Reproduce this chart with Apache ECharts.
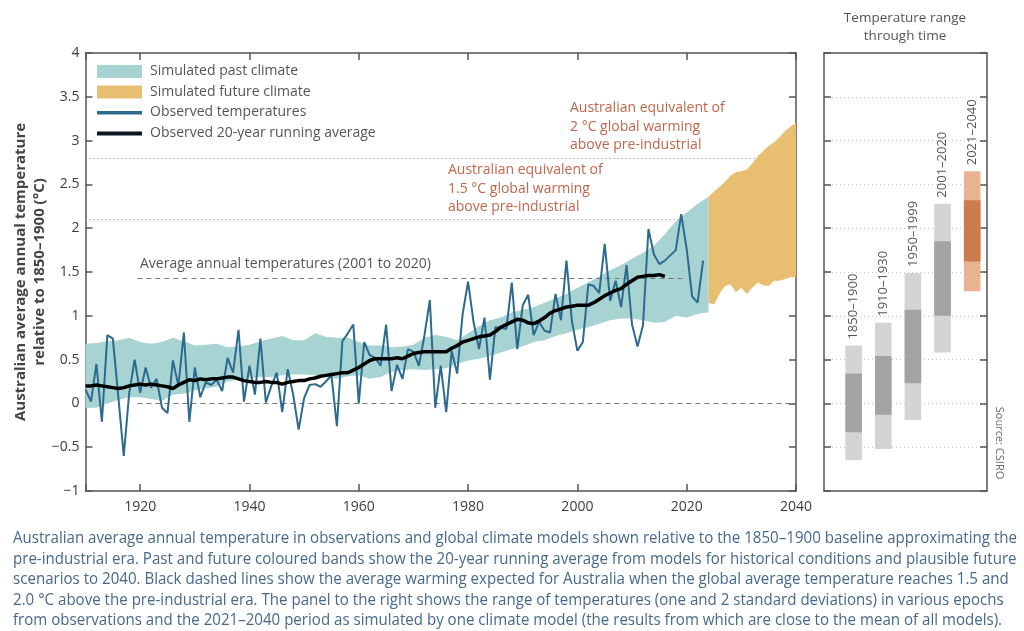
<!DOCTYPE html>
<html>
<head>
<meta charset="utf-8">
<script src="https://cdn.jsdelivr.net/npm/echarts@6/dist/echarts.min.js"></script>
<style>html,body{margin:0;padding:0;background:#fff}#c{width:1024px;height:631px}</style>
</head>
<body>
<div id="c"></div>
<script>
// ---------------- DATA ----------------
const obsFirstYear = 1910;
const obsTemps = [
  0.16, 0.02, 0.45, -0.21, 0.78, 0.74, 0.08, -0.60, 0.12, 0.50,
  0.12, 0.41, 0.18, 0.28, -0.05, -0.11, 0.49, 0.20, 0.81, -0.21,
  0.41, 0.07, 0.24, 0.21, 0.27, 0.14, 0.52, 0.35, 0.84, 0.02,
  0.43, 0.10, 0.74, 0.01, 0.20, 0.35, -0.10, 0.39, 0.10, -0.30,
  0.06, 0.21, 0.22, 0.19, 0.25, 0.32, -0.26, 0.71, 0.80, 0.90,
  0.00, 0.70, 0.55, 0.52, 0.43, 0.90, 0.14, 0.44, 0.28, 0.62,
  0.59, 0.43, 0.77, 1.18, -0.05, 0.43, -0.10, 0.60, 0.34, 1.02,
  1.39, 0.93, 0.62, 0.98, 0.27, 0.87, 0.86, 0.85, 1.38, 0.62,
  1.12, 1.24, 0.78, 0.93, 0.83, 0.81, 1.25, 0.95, 1.63, 0.94,
  0.60, 0.70, 1.36, 1.34, 1.26, 1.82, 1.17, 1.40, 1.10, 1.58,
  0.90, 0.65, 0.89, 1.99, 1.70, 1.59, 1.63, 1.69, 1.75, 2.16,
  1.76, 1.22, 1.15, 1.63
];
const avgFirstYear = 1910;
const avgTemps = [
  0.20, 0.20, 0.21, 0.20, 0.19, 0.18, 0.17, 0.18, 0.20, 0.21,
  0.22, 0.21, 0.22, 0.21, 0.20, 0.19, 0.17, 0.21, 0.24, 0.27,
  0.26, 0.28, 0.27, 0.28, 0.28, 0.29, 0.30, 0.30, 0.28, 0.26,
  0.25, 0.24, 0.24, 0.25, 0.24, 0.24, 0.22, 0.24, 0.25, 0.26,
  0.26, 0.28, 0.29, 0.31, 0.32, 0.33, 0.34, 0.35, 0.35, 0.38,
  0.41, 0.45, 0.49, 0.51, 0.51, 0.51, 0.51, 0.52, 0.51, 0.54,
  0.57, 0.58, 0.59, 0.59, 0.59, 0.59, 0.59, 0.63, 0.66, 0.70,
  0.72, 0.74, 0.76, 0.77, 0.78, 0.82, 0.87, 0.90, 0.93, 0.96,
  0.95, 0.92, 0.91, 0.94, 0.98, 1.03, 1.06, 1.08, 1.10, 1.11,
  1.12, 1.12, 1.12, 1.15, 1.19, 1.23, 1.26, 1.29, 1.31, 1.36,
  1.40, 1.44, 1.45, 1.46, 1.46, 1.47, 1.45
];
const pastYears = [1910,1912,1914,1916,1918,1920,1922,1924,1926,1928,1930,1932,1934,1936,1938,1940,1942,1944,1946,1948,1950,1952,1954,1956,1958,1960,1962,1964,1966,1968,1970,1972,1974,1976,1978,1980,1982,1984,1986,1988,1990,1992,1994,1996,1998,2000,2002,2004,2006,2008,2010,2012,2014,2016,2018,2020,2022,2024];
const pastHigh = [0.68,0.69,0.71,0.72,0.75,0.70,0.68,0.70,0.75,0.71,0.66,0.67,0.68,0.64,0.65,0.67,0.71,0.74,0.77,0.72,0.72,0.80,0.76,0.75,0.75,0.70,0.66,0.66,0.64,0.65,0.67,0.75,0.78,0.76,0.72,0.80,0.88,0.95,0.98,1.04,1.07,1.10,1.15,1.20,1.25,1.32,1.38,1.45,1.52,1.58,1.65,1.72,1.80,1.93,2.08,2.18,2.28,2.36];
const pastLow = [-0.05,-0.05,0.00,0.04,0.07,0.07,0.05,0.03,0.10,0.11,0.15,0.17,0.19,0.25,0.27,0.29,0.30,0.30,0.32,0.33,0.33,0.32,0.30,0.28,0.31,0.32,0.28,0.30,0.36,0.38,0.39,0.38,0.39,0.40,0.45,0.49,0.51,0.54,0.58,0.62,0.65,0.70,0.72,0.77,0.80,0.84,0.87,0.91,0.95,0.97,0.97,0.95,0.92,0.93,1.00,0.98,1.02,1.04];
const futureYears = [2024,2025,2026,2027,2028,2029,2030,2031,2032,2033,2034,2035,2036,2037,2038,2039,2040];
const futureHigh = [2.36,2.42,2.47,2.53,2.60,2.64,2.65,2.67,2.74,2.82,2.88,2.94,2.98,3.04,3.11,3.16,3.20];
const futureLow = [1.15,1.13,1.25,1.34,1.36,1.27,1.32,1.25,1.32,1.38,1.35,1.34,1.40,1.40,1.42,1.44,1.44];

const level2C = 2.8;
const level15C = 2.1;
const avg2001to2020 = 1.43;
const avgLineStart = 1919.5;
const avgLineEnd = 2020;
const zeroLineStart = 1919.5;

const epochs = ['1850–1900', '1910–1930', '1950–1999', '2001–2020', '2021–2040'];
const epochIsModel = [false, false, false, false, true];
const outerLow = [-0.65, -0.52, -0.19, 0.58, 1.28];
const outerHigh = [0.66, 0.92, 1.49, 2.28, 2.65];
const innerLow = [-0.33, -0.13, 0.23, 1.00, 1.62];
const innerHigh = [0.34, 0.54, 1.07, 1.85, 2.32];

const legendNames = ['Simulated past climate', 'Simulated future climate', 'Observed temperatures', 'Observed 20-year running average'];
const yAxisTitle = 'Australian average annual temperature\nrelative to 1850–1900 (°C)';
const panelTitle = 'Temperature range\nthrough time';
const sourceText = 'Source: CSIRO';
const note2C = 'Australian equivalent of\n2 °C global warming\nabove pre-industrial';
const note15C = 'Australian equivalent of\n1.5 °C global warming\nabove pre-industrial';
const noteAvg = 'Average annual temperatures (2001 to 2020)';
const captionLines = [
  'Australian average annual temperature in observations and global climate models shown relative to the 1850–1900 baseline approximating the',
  'pre-industrial era. Past and future coloured bands show the 20-year running average from models for historical conditions and plausible future',
  'scenarios to 2040. Black dashed lines show the average warming expected for Australia when the global average temperature reaches 1.5 and',
  '2.0 °C above the pre-industrial era. The panel to the right shows the range of temperatures (one and 2 standard deviations) in various epochs',
  'from observations and the 2021–2040 period as simulated by one climate model (the results from which are close to the mean of all models).'
];

// ---------------- STYLE ----------------
const FONT = 'Open Sans';
const TEAL = '#a8d3d3';
const ORANGE = '#e8bf70';
const OBS = '#2c6a8e';
const AXIS = '#555';
const TXT = '#555';
const NOTE = '#c0674b';
const GRAY_L = '#d4d4d4', GRAY_D = '#a3a3a3', OR_L = '#e9b391', OR_D = '#cd7a4c';

const mctx = document.createElement('canvas').getContext('2d');
mctx.font = '16px "' + FONT + '"';
const capScale = 1004 / mctx.measureText(captionLines[0]).width;

const chart = echarts.init(document.getElementById('c'), null, {renderer: 'canvas'});

const axisLineStyle = {color: AXIS, width: 1.5};
function xAx(grid, pos, extra) {
  return Object.assign({
    gridIndex: grid, type: 'value', position: pos,
    axisLine: {show: true, onZero: false, lineStyle: axisLineStyle},
    axisTick: {show: false},
    axisLabel: {show: false},
    splitLine: {show: false}
  }, extra);
}
function yAx(grid, pos, extra) {
  return Object.assign({
    gridIndex: grid, type: 'value', min: -1, max: 4, interval: 0.5, position: pos,
    axisLine: {show: true, onZero: false, lineStyle: axisLineStyle},
    axisTick: {show: true, inside: true, length: 7, lineStyle: axisLineStyle},
    axisLabel: {show: false},
    splitLine: {show: false}
  }, extra);
}
const mainX = {min: 1910, max: 2040, splitNumber: 6, minInterval: 20, maxInterval: 20,
  axisTick: {show: true, inside: true, length: 7, lineStyle: axisLineStyle}};

function bandSeries(name, years, low, high, color) {
  return {
    name: name, type: 'custom', xAxisIndex: 0, yAxisIndex: 0, z: 2, silent: true,
    data: years.map((y, i) => [y, low[i], high[i]]),
    encode: {x: 0, y: [1, 2]},
    renderItem: function (params, api) {
      if (params.dataIndex !== 0) return null;
      const pts = [];
      for (let i = 0; i < years.length; i++) pts.push(api.coord([years[i], high[i]]));
      for (let i = years.length - 1; i >= 0; i--) pts.push(api.coord([years[i], low[i]]));
      return {type: 'polygon', shape: {points: pts}, style: {fill: color}};
    }
  };
}

const option = {
  animation: false,
  textStyle: {fontFamily: FONT},
  grid: [
    {left: 85.5, top: 53, width: 710.5, height: 438},
    {left: 824, top: 53, width: 163, height: 438}
  ],
  xAxis: [
    xAx(0, 'bottom', Object.assign({}, mainX, {
      axisLabel: {show: true, color: '#3c3c3c', fontSize: 14, margin: 9,
        formatter: v => (v === 1910 ? '' : String(v))}
    })),
    xAx(0, 'top', mainX),
    xAx(1, 'bottom', {min: 0, max: 5.5}),
    xAx(1, 'top', {min: 0, max: 5.5})
  ],
  yAxis: [
    yAx(0, 'left', {
      axisLabel: {show: true, color: '#3c3c3c', fontSize: 14, margin: 6,
        formatter: v => (v < 0 ? '−' + Math.abs(v) : String(v))},
      name: yAxisTitle, nameLocation: 'middle', nameGap: 36, nameMoveOverlap: false,
      nameTextStyle: {fontSize: 15, fontWeight: 'bold', color: '#444', lineHeight: 19}
    }),
    yAx(0, 'right', {}),
    yAx(1, 'left', {splitLine: {show: true, lineStyle: {color: '#c4c4c4', type: [1, 3], width: 1}}}),
    yAx(1, 'right', {})
  ],
  series: [
    {type: 'line', xAxisIndex: 0, yAxisIndex: 0, data: [], z: 1, silent: true,
      markLine: {silent: true, symbol: 'none', z: 1, animation: false, label: {show: false},
        lineStyle: {color: '#a8a8a8', type: [1.5, 2.5], width: 1},
        data: [
          [{coord: [1910, level2C]}, {coord: [2040, level2C]}],
          [{coord: [1910, level15C]}, {coord: [2040, level15C]}]
        ]}},
    bandSeries(legendNames[0], pastYears, pastLow, pastHigh, TEAL),
    bandSeries(legendNames[1], futureYears, futureLow, futureHigh, ORANGE),
    {type: 'line', xAxisIndex: 0, yAxisIndex: 0, data: [], z: 3, silent: true,
      markLine: {silent: true, symbol: 'none', z: 3, animation: false, label: {show: false},
        lineStyle: {color: '#777', type: [5, 4], width: 1},
        data: [
          [{coord: [avgLineStart, avg2001to2020]}, {coord: [avgLineEnd, avg2001to2020]}],
          [{coord: [zeroLineStart, 0]}, {coord: [2040, 0]}]
        ]}},
    {name: legendNames[2], type: 'line', xAxisIndex: 0, yAxisIndex: 0,
      data: obsTemps.map((v, i) => [obsFirstYear + i, v]), symbol: 'none',
      lineStyle: {color: OBS, width: 2}, z: 4},
    {name: legendNames[3], type: 'line', xAxisIndex: 0, yAxisIndex: 0,
      data: avgTemps.map((v, i) => [avgFirstYear + i, v]), symbol: 'none',
      lineStyle: {color: '#000', width: 3.5}, z: 5},
    {type: 'custom', xAxisIndex: 2, yAxisIndex: 2, z: 3,
      data: epochs.map((e, i) => [i + 1, outerLow[i], outerHigh[i], innerLow[i], innerHigh[i]]),
      renderItem: function (params, api) {
        const i = params.dataIndex;
        const x = api.value(0);
        const bw = api.size([0.56, 0])[0];
        const o1 = api.coord([x, api.value(2)]), o0 = api.coord([x, api.value(1)]);
        const n1 = api.coord([x, api.value(4)]), n0 = api.coord([x, api.value(3)]);
        const model = epochIsModel[i];
        return {type: 'group', children: [
          {type: 'rect', shape: {x: o1[0] - bw / 2, y: o1[1], width: bw, height: o0[1] - o1[1]},
            style: {fill: model ? OR_L : GRAY_L}},
          {type: 'rect', shape: {x: n1[0] - bw / 2, y: n1[1], width: bw, height: n0[1] - n1[1]},
            style: {fill: model ? OR_D : GRAY_D}},
          {type: 'text', x: o1[0], y: o1[1] - 6, rotation: Math.PI / 2,
            style: {text: epochs[i], align: 'left', verticalAlign: 'middle', fill: TXT,
              font: '13px "' + FONT + '"'}}
        ]};
      }}
  ],
  graphic: [
    {type: 'rect', shape: {x: 97, y: 65, width: 45, height: 13}, style: {fill: TEAL}},
    {type: 'rect', shape: {x: 97, y: 85.5, width: 45, height: 13}, style: {fill: ORANGE}},
    {type: 'rect', shape: {x: 97, y: 111, width: 45, height: 3.5}, style: {fill: OBS}},
    {type: 'rect', shape: {x: 97, y: 131.5, width: 45, height: 4}, style: {fill: '#0b1622'}},
    {type: 'text', x: 150, y: 71.5, style: {text: legendNames[0], font: '14px "' + FONT + '"', fill: TXT, verticalAlign: 'middle'}},
    {type: 'text', x: 150, y: 92, style: {text: legendNames[1], font: '14px "' + FONT + '"', fill: TXT, verticalAlign: 'middle'}},
    {type: 'text', x: 150, y: 112.5, style: {text: legendNames[2], font: '14px "' + FONT + '"', fill: TXT, verticalAlign: 'middle'}},
    {type: 'text', x: 150, y: 133, style: {text: legendNames[3], font: '14px "' + FONT + '"', fill: TXT, verticalAlign: 'middle'}},
    {type: 'text', x: 140, y: 264, style: {text: noteAvg, font: '14px "' + FONT + '"', fill: TXT, verticalAlign: 'middle'}},
    {type: 'text', x: 570, y: 99, style: {text: note2C, font: '14px "' + FONT + '"', fill: NOTE, lineHeight: 18.5, verticalAlign: 'top'}},
    {type: 'text', x: 448, y: 161, style: {text: note15C, font: '14px "' + FONT + '"', fill: NOTE, lineHeight: 18.5, verticalAlign: 'top'}},
    {type: 'text', x: 905, y: 27, style: {text: panelTitle, font: '13.5px "' + FONT + '"', fill: TXT, lineHeight: 18, align: 'center', verticalAlign: 'middle'}},
    {type: 'text', x: 999, y: 443, rotation: -Math.PI / 2, style: {text: sourceText, font: '11px "' + FONT + '"', fill: '#666', align: 'center', verticalAlign: 'middle'}}
  ].concat(captionLines.map((t, i) => ({
    type: 'text', x: 13, y: 538.5 + i * 20.5, scaleX: capScale,
    style: {text: t, font: '16px "' + FONT + '"', fill: '#46698b', verticalAlign: 'middle'}
  })))
};
chart.setOption(option);
</script>
</body>
</html>
